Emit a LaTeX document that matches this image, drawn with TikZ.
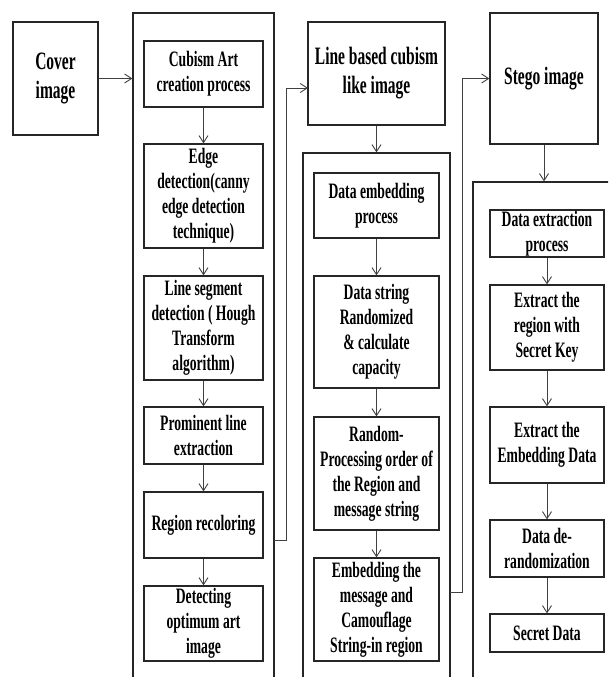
\documentclass[tikz,border=0pt]{standalone}
\usepackage{fontspec}
\setmainfont{Liberation Serif}[FakeStretch=0.62]
\usetikzlibrary{arrows.meta, positioning}
\tikzstyle{process} = [rectangle, draw=black!85, line width=1.2pt, inner sep=0pt, align=center, font=\bfseries\fontsize{22}{25}\selectfont]
\tikzstyle{bigprocess} = [process, font=\bfseries\fontsize{25}{29}\selectfont]
\tikzstyle{frame} = [rectangle, draw=black!85, line width=1.2pt, inner sep=0pt]
\tikzstyle{flow} = [draw=black!75, line width=0.9pt, -{Straight Barb[length=7pt,width=9pt]}]

\begin{document}
\begin{tikzpicture}[x=1pt, y=-1pt]
\useasboundingbox (0,0) rectangle (608,677);
\clip (0,0) rectangle (608,677);
% open frames
\node (cont1) [frame, minimum width=141pt, minimum height=707pt] at (203.5,366.5) {};
\node (cont2) [frame, minimum width=147pt, minimum height=567pt] at (376.5,436.5) {};
\node (cont3) [frame, minimum width=247pt, minimum height=538pt] at (596.5,451) {};
% top boxes
\node (cover) [bigprocess, minimum width=85pt, minimum height=113pt] at (55.5,78.5) {Cover\\image};
\node (line) [bigprocess, minimum width=137pt, minimum height=103pt] at (376.5,73.5) {Line based cubism\\like image};
\node (stego) [bigprocess, minimum width=108pt, minimum height=131pt] at (544,78.5) {Stego image};
% cubism art creation
\node (cubism) [process, minimum width=119pt, minimum height=66pt] at (203.5,74) {Cubism Art\\creation process};
\node (edge) [process, minimum width=119pt, minimum height=104pt] at (203.5,196) {Edge\\detection(canny\\edge detection\\technique)};
\node (lineseg) [process, minimum width=119pt, minimum height=104pt] at (203.5,328) {Line segment\\detection ( Hough\\Transform\\algorithm)};
\node (prominent) [process, minimum width=119pt, minimum height=57pt] at (203.5,435.5) {Prominent line\\extraction};
\node (recolor) [process, minimum width=119pt, minimum height=66pt] at (203.5,525) {Region recoloring};
\node (detect) [process, minimum width=119pt, minimum height=75pt] at (203.5,623.5) {Detecting\\optimum art\\image};
% data embedding
\node (embedproc) [process, minimum width=125pt, minimum height=65pt] at (376.5,205.5) {Data embedding\\process};
\node (datastr) [process, minimum width=125pt, minimum height=112pt] at (376.5,332) {Data string\\Randomized\\\& calculate\\capacity};
\node (random) [process, minimum width=125pt, minimum height=113pt] at (376.5,473.5) {Random-\\Processing order of\\the Region and\\message string};
\node (embedmsg) [process, minimum width=125pt, minimum height=103pt] at (376.5,609.5) {Embedding the\\message and\\Camouflage\\String-in region};
% data extraction
\node (extproc) [process, minimum width=114pt, minimum height=47pt] at (547,233.5) {Data extraction\\process};
\node (extreg) [process, minimum width=114pt, minimum height=85pt] at (547,327.5) {Extract the\\region with\\Secret Key};
\node (extemb) [process, minimum width=114pt, minimum height=76pt] at (547,445) {Extract the\\Embedding Data};
\node (derand) [process, minimum width=114pt, minimum height=57pt] at (547,548.5) {Data de-\\randomization};
\node (secret) [process, minimum width=114pt, minimum height=38pt] at (547,633) {Secret Data};
% links between frames
\coordinate (out1) at (274,540);
\coordinate (in1) at (308,88);
\coordinate (out2) at (450,592);
\draw[flow] (cover.east) -- (cover.east -| cont1.west);
\draw[flow] (out1) -- ++(12,0) |- (in1);
\draw[flow] (line) -- (line.south |- cont2.north);
\draw[flow] (out2) -- ++(12,0) |- (stego.west);
\draw[flow] (stego) -- (stego.south |- cont3.north);
% steps
\draw[flow] (cubism) -- (edge);
\draw[flow] (edge) -- (lineseg);
\draw[flow] (lineseg) -- (prominent);
\draw[flow] (prominent) -- (recolor);
\draw[flow] (recolor) -- (detect);
\draw[flow] (embedproc) -- (datastr);
\draw[flow] (datastr) -- (random);
\draw[flow] (random) -- (embedmsg);
\draw[flow] (extproc) -- (extreg);
\draw[flow] (extreg) -- (extemb);
\draw[flow] (extemb) -- (derand);
\draw[flow] (derand) -- (secret);
\end{tikzpicture}
\end{document}
